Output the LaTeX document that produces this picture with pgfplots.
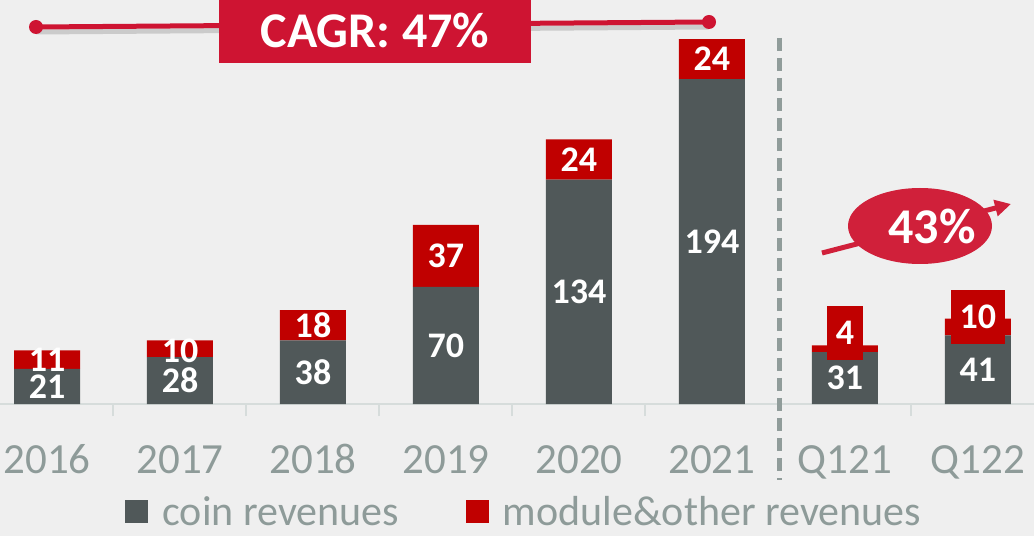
\documentclass[border=0pt]{standalone}
\usepackage{pgfplots}
\pgfplotsset{compat=1.18}
\usepackage{fontspec}
\setmainfont{Carlito}
\usetikzlibrary{arrows.meta}
\definecolor{bg}{HTML}{EFEFEF}
\definecolor{coin}{HTML}{505859}
\definecolor{modred}{HTML}{C00000}
\definecolor{crim}{HTML}{CE1432}
\definecolor{ell}{HTML}{D0203A}
\definecolor{labgray}{HTML}{8E9B99}
\definecolor{axgray}{HTML}{D6DCDB}
\definecolor{dashgray}{HTML}{909C9A}
\newcommand{\lab}{\fontsize{36}{40}\selectfont\bfseries}
\begin{document}
\begin{tikzpicture}
\fill[bg] (0pt,0pt) rectangle (1034pt,536pt);
\begin{axis}[
  at={(0pt,132pt)}, anchor=south west,
  scale only axis, width=1034pt, height=404pt,
  xmin=-0.3534, xmax=7.421, ymin=0, ymax=241.3,
  clip=false,
  ybar stacked, bar width=66pt,
  axis y line=none,
  axis x line*=bottom,
  axis line style={draw=axgray, line width=2pt, -},
  xtick={0,...,7},
  xticklabels={2016,2017,2018,2019,2020,2021,Q121,Q122},
  major tick length=0pt,
  xticklabel style={font=\fontsize{43}{48}\selectfont, text=labgray, anchor=base, yshift=-69pt},
  extra x ticks={0.5,1.5,2.5,3.5,4.5,6.5},
  extra x tick labels={},
  extra x tick style={major tick length=12pt, tick align=outside, tick style={draw=axgray, line width=2pt}},
  legend columns=2,
  legend style={at={(0.507,-0.267)}, anchor=center, draw=none, fill=none,
    font=\fontsize{42}{46}\selectfont, text=labgray,
    /tikz/every odd column/.append style={column sep=12pt},
    /tikz/every even column/.append style={column sep=65pt},
    inner sep=0pt},
  legend image code/.code={\path[#1, draw=none] (0pt,-11pt) rectangle (23pt,12pt);},
]
\addplot[fill=coin, draw=none] coordinates {(0,21) (1,28) (2,38) (3,70) (4,134) (5,194) (6,31) (7,41)};
\addlegendentry{coin revenues}
\addplot[fill=modred, draw=none] coordinates {(0,11) (1,10) (2,18) (3,37) (4,24) (5,24) (6,4) (7,10)};
\addlegendentry{module\&other revenues}
\coordinate (a0) at (axis cs:0,10.5);
\coordinate (b0) at (axis cs:0,26.5);
\coordinate (a1) at (axis cs:1,14);
\coordinate (b1) at (axis cs:1,32);
\coordinate (a2) at (axis cs:2,19);
\coordinate (b2) at (axis cs:2,47);
\coordinate (a3) at (axis cs:3,35);
\coordinate (b3) at (axis cs:3,88.5);
\coordinate (a4) at (axis cs:4,67);
\coordinate (b4) at (axis cs:4,146);
\coordinate (a5) at (axis cs:5,97);
\coordinate (b5) at (axis cs:5,206);
\coordinate (a6) at (axis cs:6,15.5);
\coordinate (b6) at (axis cs:6,42.4);
\coordinate (a7) at (axis cs:7,20.5);
\coordinate (b7) at (axis cs:7,52);
\end{axis}
\node[text=white] at (a0) {\lab 21};
\node[text=white] at (b0) {\lab 11};
\node[text=white] at (a1) {\lab 28};
\node[text=white] at (b1) {\lab 10};
\node[text=white] at (a2) {\lab 38};
\node[text=white] at (b2) {\lab 18};
\node[text=white] at (a3) {\lab 70};
\node[text=white] at (b3) {\lab 37};
\node[text=white] at (a4) {\lab 134};
\node[text=white] at (b4) {\lab 24};
\node[text=white] at (a5) {\lab 194};
\node[text=white] at (b5) {\lab 24};
\node[text=white] at (a6) {\lab 31};
\node[text=white, fill=modred, minimum width=36pt, minimum height=54pt, inner sep=0pt] at (b6) {\lab 4};
\node[text=white] at (a7) {\lab 41};
\node[text=white, fill=modred, minimum width=54pt, minimum height=54pt, inner sep=0pt] at (b7) {\lab 10};
% dashed separator
\draw[dashgray, line width=5pt, dash pattern=on 13pt off 7pt] (779pt,498pt) -- (779pt,56pt);
% CAGR line
\draw[black, opacity=0.15, line width=5pt] (36pt,504pt) -- (709pt,509pt);
\draw[crim, line width=5pt] (36pt,509pt) -- (709pt,514pt);
\fill[crim] (36pt,509pt) circle (7pt);
\fill[crim] (709pt,514pt) circle (7pt);
\fill[crim] (219pt,473pt) rectangle (531pt,540pt);
\node[text=white, font=\fontsize{50}{56}\selectfont\bfseries] at (375pt,506pt) {CAGR: 47\%};
% 43% arrow
\draw[ell, line width=5pt, -{Triangle[length=16pt,width=16pt]}] (822pt,283pt) -- (1011pt,332pt);
\fill[ell] (920pt,310pt) ellipse [x radius=72pt, y radius=38pt];
\node[text=white, font=\fontsize{50}{56}\selectfont\bfseries] at (932pt,310pt) {43\%};
\pgfresetboundingbox
\path (0pt,0pt) rectangle (1034pt,536pt);
\end{tikzpicture}
\end{document}
